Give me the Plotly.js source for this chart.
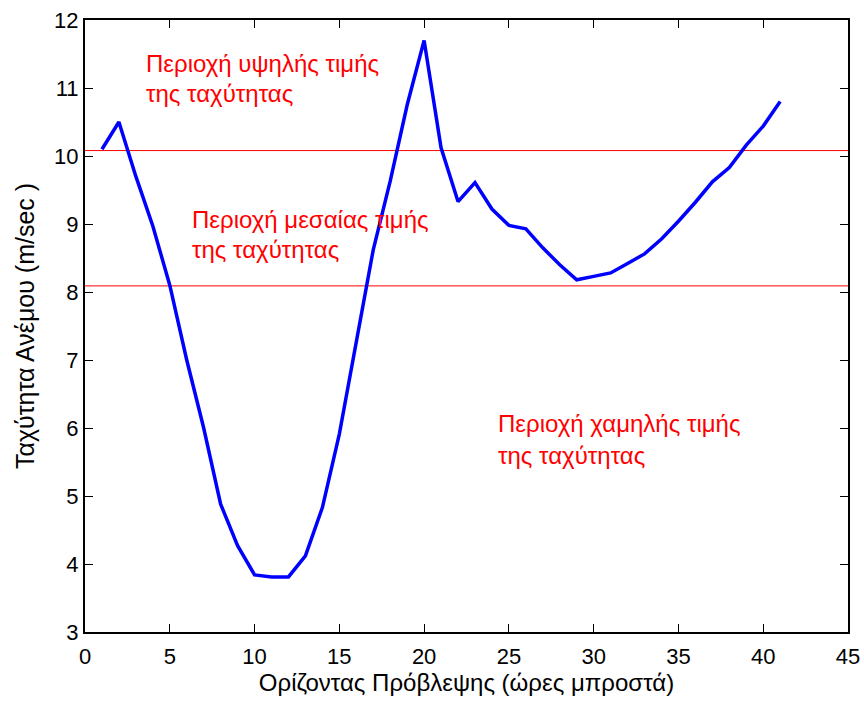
<!DOCTYPE html>
<html><head><meta charset="utf-8">
<script src="https://cdn.plot.ly/plotly-3.0.1.min.js"></script>
<style>body{margin:0;background:#fff}#chart{width:864px;height:702px}</style>
</head><body><div id="chart"></div>
<script>
const hours = [1,2,3,4,5,6,7,8,9,10,11,12,13,14,15,16,17,18,19,20,21,22,23,24,25,26,27,28,29,30,31,32,33,34,35,36,37,38,39,40,41];
const windSpeed = [10.1,10.5,9.7,8.97,8.1,7.0,6.0,4.88,4.27,3.84,3.81,3.81,4.12,4.83,5.91,7.25,8.62,9.63,10.75,11.7,10.12,9.33,9.61,9.22,8.98,8.93,8.65,8.4,8.18,8.23,8.28,8.42,8.56,8.78,9.04,9.32,9.62,9.83,10.16,10.44,10.8];
const thresholds = [10.08, 8.09];
const labelLines = ["Περιοχή υψηλής τιμής", "της ταχύτητας", "Περιοχή μεσαίας τιμής", "της ταχύτητας", "Περιοχή χαμηλής τιμής", "της ταχύτητας"];
const labelX = [3.5, 3.5, 6.2, 6.2, 24.25, 24.25];
const labelY = [11.36, 10.92, 9.07, 8.62, 6.06, 5.60];

const FONT = 'Liberation Sans, Arial, sans-serif';
const traces = [{
  x: hours, y: windSpeed, type:'scatter', mode:'lines',
  line:{color:'#0000ff', width:3.5}, hoverinfo:'skip'
}];
const shapes = thresholds.map(v => ({type:'line', xref:'paper', x0:0, x1:1, yref:'y', y0:v, y1:v, layer:'below', line:{color:'#ff0000', width:1}}));
const annotations = labelLines.map((t, i) => ({
  text:t, x:labelX[i], y:labelY[i], xref:'x', yref:'y', showarrow:false,
  xanchor:'left', yanchor:'middle', align:'left',
  font:{family:FONT, size:24, color:'#ff0000'}
}));
const axisCommon = {
  showline:true, linecolor:'#000', linewidth:2, mirror:'ticks', ticks:'inside', ticklen:8, tickwidth:1, tickcolor:'#000',
  showgrid:false, zeroline:false,
  tickfont:{family:FONT, size:22, color:'#000'}
};
const layout = {
  width:864, height:702,
  margin:{l:85, r:16, t:20, b:70},
  paper_bgcolor:'#fff', plot_bgcolor:'#fff',
  showlegend:false,
  xaxis: Object.assign({}, axisCommon, {range:[0,45], dtick:5, tick0:0, ticklabelstandoff:4,
    title:{text:'Ορίζοντας Πρόβλεψης (ώρες μπροστά)', standoff:6, font:{family:FONT, size:24, color:'#000'}}}),
  yaxis: Object.assign({}, axisCommon, {range:[3,12], dtick:1, tick0:3,
    title:{text:'Ταχύτητα Ανέμου (m/sec )', standoff:12, font:{family:FONT, size:25, color:'#000'}}}),
  shapes: shapes,
  annotations: annotations
};
Plotly.newPlot('chart', traces, layout, {displayModeBar:false, staticPlot:true});
</script></body></html>
